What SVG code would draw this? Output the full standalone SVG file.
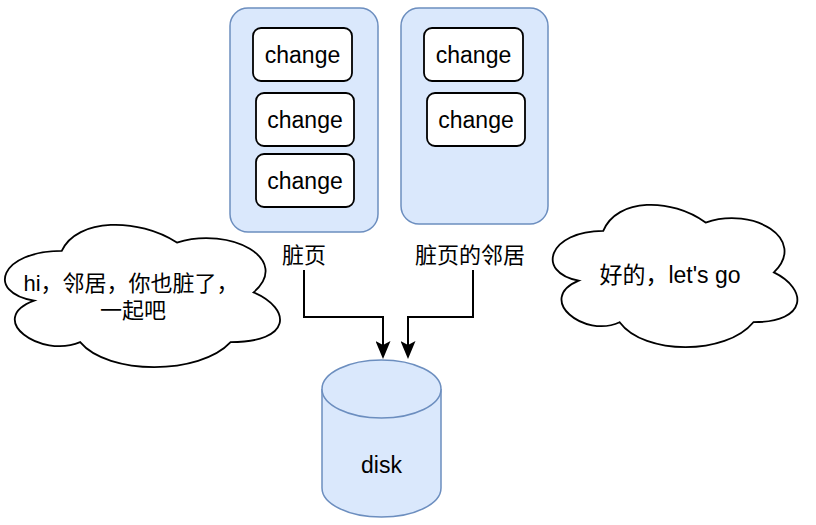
<svg xmlns="http://www.w3.org/2000/svg" width="816" height="525" viewBox="0 0 816 525">
<defs>
<style>
.container{fill:#dae8fc;stroke:#6c8ebf;stroke-width:1.5}
.box{fill:#ffffff;stroke:#000000;stroke-width:1.8}
.cloud{fill:#ffffff;stroke:#000000;stroke-width:1.8}
.cyl{fill:#dae8fc;stroke:#6c8ebf;stroke-width:1.5}
text{font-family:"Liberation Sans","Noto Sans CJK SC",Arial,sans-serif;font-size:23px;fill:#000000;text-anchor:middle}
.conn{fill:none;stroke:#000000;stroke-width:2}
</style>
<marker id="arrow" viewBox="0 0 18 15" markerWidth="18" markerHeight="15" refX="4" refY="7.5" orient="auto" markerUnits="userSpaceOnUse">
<path d="M0,0 L18,7.5 L0,15 L4,7.5 Z" fill="#000000"/>
</marker>
</defs>
<rect width="816" height="525" fill="#ffffff"/>

<g id="dirty-page">
<rect class="container" x="230" y="8" width="148" height="224" rx="18"/>
</g>
<g id="neighbor-page">
<rect class="container" x="401" y="8" width="147" height="216" rx="18"/>
</g>
<g id="change-1">
<rect class="box" x="253" y="28" width="99" height="53" rx="8"/>
<text x="302.5" y="63">change</text>
</g>
<g id="change-2">
<rect class="box" x="256" y="93" width="98" height="53" rx="8"/>
<text x="305" y="128">change</text>
</g>
<g id="change-3">
<rect class="box" x="256" y="154" width="98" height="53" rx="8"/>
<text x="305" y="189">change</text>
</g>
<g id="change-4">
<rect class="box" x="424" y="28" width="99" height="53" rx="8"/>
<text x="473.5" y="63">change</text>
</g>
<g id="change-5">
<rect class="box" x="427" y="93" width="98" height="53" rx="8"/>
<text x="476" y="128">change</text>
</g>

<g id="label-dirty">
<text x="304" y="263" style="font-size:22px">脏页</text>
</g>
<g id="label-neighbor">
<text x="470" y="263" style="font-size:22px">脏页的邻居</text>
</g>

<g id="cloud-left">
<path class="cloud" d="M61.75,250.9 C0.35,250.9 -15,292.4 34.12,300.7 C-15,318.96 40.26,358.8 80.17,342.2 C107.8,375.4 199.9,375.4 230.6,342.2 C292,342.2 292,309 253.6,292.4 C292,259.2 230.6,226 176.9,242.6 C138.5,217.7 77.1,217.7 61.75,250.9 Z"/>
<text x="131" y="291" style="font-size:22px">hi，邻居，你也脏了，</text>
<text x="133" y="318" style="font-size:22px">一起吧</text>
</g>

<g id="cloud-right">
<path class="cloud" d="M603.25,230.9 C548.65,230.9 535,272.4 578.68,280.7 C535,298.96 584.14,338.8 619.63,322.2 C644.2,355.4 726.1,355.4 753.4,322.2 C808,322.2 808,289 773.9,272.4 C808,239.2 753.4,206 705.6,222.6 C671.5,197.7 616.9,197.7 603.25,230.9 Z"/>
<text x="670" y="283">好的，let's go</text>
</g>

<g id="disk">
<path class="cyl" d="M322,389 A59.5,29 0 0 1 441,389 L441,488 A59.5,29 0 0 1 322,488 Z"/>
<path class="cyl" fill="none" d="M322,389 A59.5,29 0 0 0 441,389"/>
<text x="381.5" y="473">disk</text>
</g>

<g id="connectors">
<path class="conn" d="M304,270 V317 H383 V345" marker-end="url(#arrow)"/>
<path class="conn" d="M473,270 V317 H408 V345" marker-end="url(#arrow)"/>
</g>
</svg>
